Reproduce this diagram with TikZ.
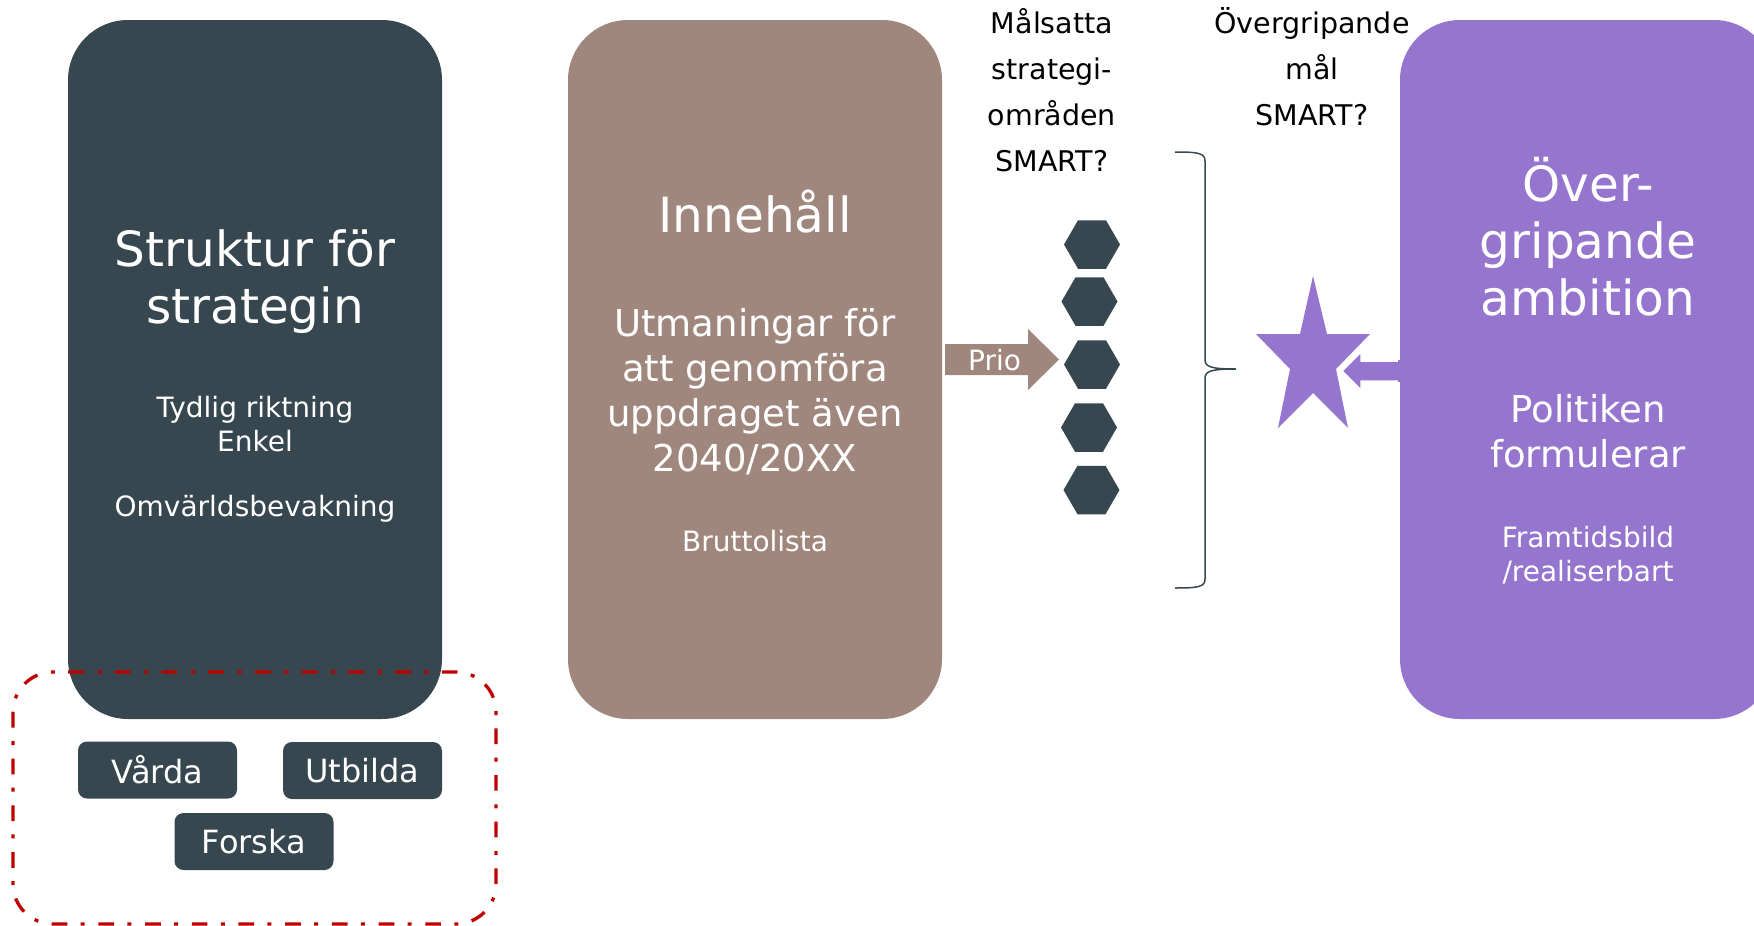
\documentclass[tikz,border=0pt]{standalone}
\usepackage{fontspec}
\setmainfont{DejaVu Sans}
\usetikzlibrary{shapes.geometric}
\definecolor{slate}{HTML}{37474F}
\definecolor{taupe}{HTML}{A0877D}
\definecolor{lilac}{HTML}{9575CD}
\definecolor{dashred}{HTML}{C00000}
\begin{document}
\begin{tikzpicture}[x=1pt,y=-1pt,
  bigbox/.style={rectangle, rounded corners=60pt, minimum width=374pt, minimum height=699pt, inner sep=0pt},
  smallbox/.style={rectangle, fill=slate, rounded corners=9pt, minimum width=159pt, minimum height=57pt, inner sep=0pt, text=white, font=\fontsize{32}{38}\selectfont},
  hexa/.style={regular polygon, regular polygon sides=6, fill=slate, minimum size=56pt, inner sep=0pt},
  txtA/.style={align=center, text=white, inner sep=0pt, font=\fontsize{48.5}{57}\selectfont},
  txtB/.style={align=center, text=white, inner sep=0pt, font=\fontsize{37}{45}\selectfont},
  txtC/.style={align=center, text=white, inner sep=0pt, font=\fontsize{28}{33.5}\selectfont},
  lbl/.style={align=center, text=black, inner sep=0pt, font=\fontsize{28.5}{46}\selectfont},
  bracestyle/.style={draw=slate, line width=1.5pt},
  redframe/.style={draw=dashred, line width=3.3pt, rounded corners=40pt, dash pattern=on 15.7pt off 13.3pt on 4pt off 13.7pt}]

\useasboundingbox (0,0) rectangle (1754,926);
\clip (0,0) rectangle (1754,926);

% big boxes
\node[bigbox, fill=slate] (struktur) at (255,369.5) {};
\node[bigbox, fill=taupe] (innehall) at (755,369.5) {};
\node[bigbox, fill=lilac] (ambition) at (1587,369.5) {};

% texts left box
\node[txtA] (t1) at (255,282) {Struktur för\\strategin};
\node[txtC] (t2) at (255,424) {Tydlig riktning\\Enkel};
\node[txtC] (t3) at (255,509) {Omvärldsbevakning};

% texts brown box
\node[txtA] (t4) at (755,212) {Innehåll};
\node[txtB] (t5) at (755,392) {Utmaningar för\\att genomföra\\uppdraget även\\2040/20XX};
\node[txtC] (t6) at (755,541) {Bruttolista};

% texts purple box
\node[txtA] (t7) at (1588,237) {Över-\\gripande\\ambition};
\node[txtB] (t8) at (1588,431) {Politiken\\formulerar};
\node[txtC] (t9) at (1588,555) {Framtidsbild\\/realiserbart};

% top labels
\node[lbl] (l1) at (1052,90) {Målsatta\\strategi-\\områden\\SMART?};
\node[lbl] (l2) at (1312,67) {Övergripande\\mål\\SMART?};

% small boxes
\node[smallbox] (varda) at (157.5,770) {Vårda};
\node[smallbox] (utbilda) at (362.5,770.5) {Utbilda};
\node[smallbox] (forska) at (254,841.5) {Forska};

% red dash-dot frame
\draw[redframe] (13,672) rectangle (496,924);

% hexagons
\node[hexa] (h1) at (1092,244.5) {};
\node[hexa] (h2) at (1089.5,301.5) {};
\node[hexa] (h3) at (1092,364.5) {};
\node[hexa] (h4) at (1089,427.5) {};
\node[hexa] (h5) at (1091.5,490) {};

% Prio arrow
\fill[taupe] (945,344) -- (1028,344) -- (1028,329) -- (1059,359.5) -- (1028,390) -- (1028,375) -- (945,375) -- cycle;
\node[text=white, inner sep=0pt, font=\fontsize{28}{33}\selectfont] (prio) at (994.5,360) {Prio};

% brace
\coordinate (bt) at (1175,152);
\coordinate (bb) at (1175,588);
\coordinate (btip) at (1236,369);
\draw[bracestyle] (bt) .. controls (1198,152) and (1205,153) .. (1205,161)
  -- (1205,360) .. controls (1205,367) and (1212,369) .. (btip)
  .. controls (1212,369) and (1205,371) .. (1205,378)
  -- (1205,579) .. controls (1205,587) and (1198,588) .. (bb);

% star
\fill[lilac] (1313,276) -- (1327,334) -- (1370,334) -- (1336,369) -- (1348,428)
  -- (1313,393) -- (1278,428) -- (1290,369) -- (1256,334) -- (1300,334) -- cycle;

% small purple arrow
\filldraw[fill=lilac, draw=white, line width=1.5pt] (1342,371) -- (1361,352) -- (1361,361) -- (1401,361)
  -- (1401,381) -- (1361,381) -- (1361,390) -- cycle;
\fill[lilac] (1398,360) rectangle (1402,382);
\end{tikzpicture}
\end{document}
